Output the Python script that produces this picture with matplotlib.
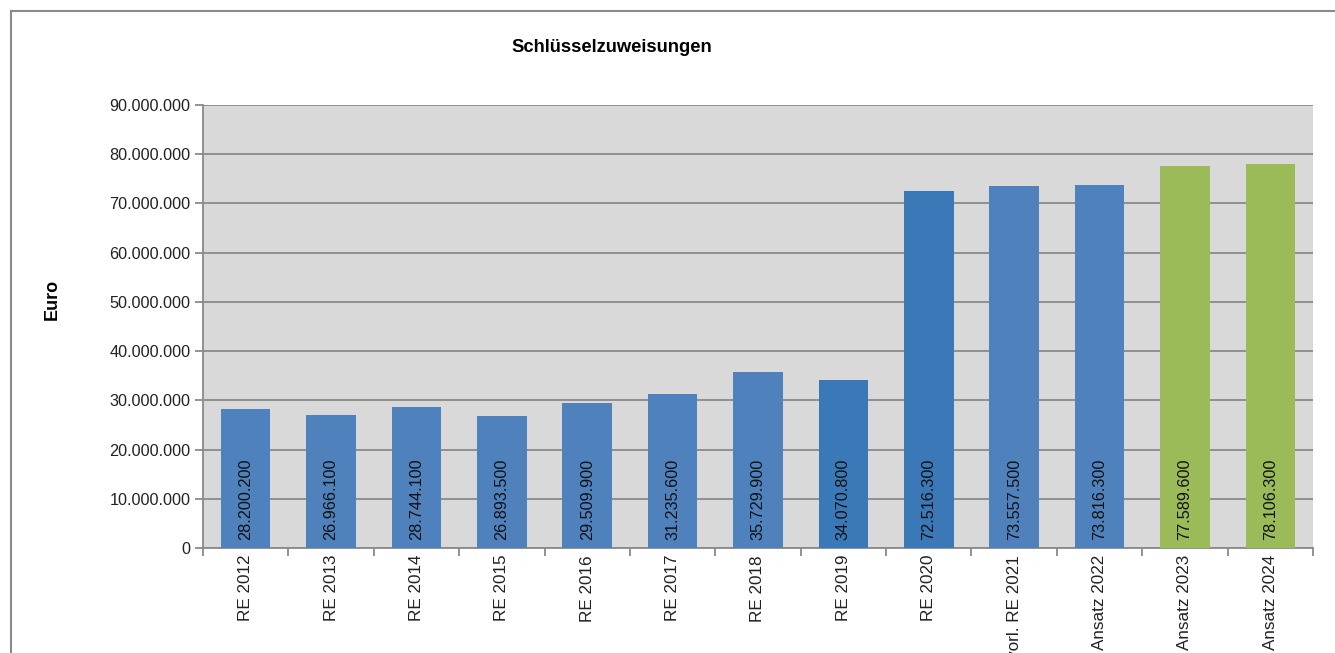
import matplotlib
matplotlib.use("Agg")
import matplotlib.pyplot as plt
from matplotlib.lines import Line2D

plt.rcParams['font.family'] = ['Liberation Sans', 'DejaVu Sans']

categories = ["RE 2012", "RE 2013", "RE 2014", "RE 2015", "RE 2016", "RE 2017",
              "RE 2018", "RE 2019", "RE 2020", "vorl. RE 2021", "Ansatz 2022",
              "Ansatz 2023", "Ansatz 2024"]
values = [28200200, 26966100, 28744100, 26893500, 29509900, 31235600,
          35729900, 34070800, 72516300, 73557500, 73816300, 77589600, 78106300]
bar_colors = ["#4F81BD"] * 7 + ["#3B78B8", "#3B78B8", "#4F81BD", "#4F81BD",
                                 "#9BBB59", "#9BBB59"]
y_ticks = list(range(0, 90000001, 10000000))


def de_fmt(v):
    return f"{v:,}".replace(",", ".")


fig = plt.figure(figsize=(13.35, 6.53), dpi=100)
ax = fig.add_axes([203 / 1335, 1 - 548 / 653, 1110 / 1335, 443 / 653])
ax.set_facecolor("#D9D9D9")

x = list(range(len(categories)))
ax.bar(x, values, width=0.58, color=bar_colors, zorder=3)

for xi, v in zip(x, values):
    ax.annotate(de_fmt(v), (xi, 0), xytext=(0, 5.5), textcoords="offset points",
                rotation=90, ha="center", va="bottom", fontsize=11.7,
                color="#111111", zorder=4)

ax.set_xlim(-0.5, len(categories) - 0.5)
ax.set_ylim(0, 90000000)
ax.set_yticks(y_ticks)
ax.set_yticklabels([de_fmt(t) for t in y_ticks], fontsize=11.7, color="#222222")
ax.yaxis.grid(True, color="#8A8A8A", linewidth=1.3, zorder=0)

# category labels; the chart is cropped at the bottom like the original
ax.set_xticks(x)
ax.set_xticklabels(categories, rotation=90, fontsize=12.3, color="#222222")
ax.tick_params(axis="x", which="major", length=0, pad=5)
ax.set_xticks([i + 0.5 for i in range(-1, len(categories))], minor=True)
ax.tick_params(axis="x", which="minor", length=6, color="#8A8A8A", width=1.3)
ax.tick_params(axis="y", length=6, color="#8A8A8A", width=1.3, pad=3)

for s in ["top", "right"]:
    ax.spines[s].set_visible(False)
for s in ["left", "bottom"]:
    ax.spines[s].set_color("#8A8A8A")
    ax.spines[s].set_linewidth(1.3)

ax.set_ylabel("Euro", fontsize=13, fontweight="bold")
ax.yaxis.set_label_coords(-0.128, 0.56)

fig.text(612 / 1335, 1 - 47 / 653, "Schlüsselzuweisungen", ha="center",
         va="center", fontsize=13.2, fontweight="bold")

# outer chart frame (cropped)
fig.add_artist(Line2D([10.5 / 1335, 10.5 / 1335], [0, 1 - 10.5 / 653],
                      color="#8A8A8A", linewidth=1.5, transform=fig.transFigure))
fig.add_artist(Line2D([10.5 / 1335, 1], [1 - 10.5 / 653, 1 - 10.5 / 653],
                      color="#8A8A8A", linewidth=1.5, transform=fig.transFigure))

fig.savefig("out.png", dpi=100)
